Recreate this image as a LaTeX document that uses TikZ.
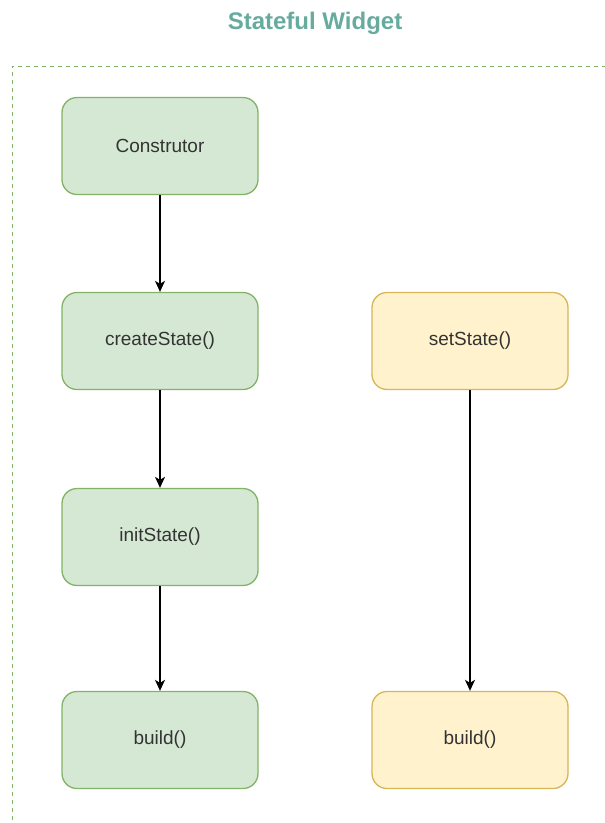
\documentclass[tikz,border=0pt]{standalone}
\usepackage{fontspec}
\setmainfont{Liberation Sans}
\usetikzlibrary{arrows.meta}
\definecolor{greenfill}{HTML}{D5E8D4}
\definecolor{greenline}{HTML}{82B366}
\definecolor{yellowfill}{HTML}{FFF2CC}
\definecolor{yellowline}{HTML}{D6B656}
\definecolor{titlecol}{HTML}{67AB9F}
\definecolor{textcol}{HTML}{333333}
\tikzset{
  greenbox/.style={draw=greenline, fill=greenfill, line width=1.3pt, rounded corners=15pt,
    minimum width=196pt, minimum height=97pt, text=textcol, font=\fontsize{19}{22}\selectfont},
  yellowbox/.style={greenbox, draw=yellowline, fill=yellowfill},
  flow/.style={-{Stealth[length=11pt, width=10pt, inset=3pt]}, line width=1.4pt}
}

\begin{document}
\begin{tikzpicture}[x=1pt, y=-1pt]
			\useasboundingbox (0, 0) rectangle (605, 823);
			\draw[greenline, line width=1pt, dash pattern=on 4pt off 4pt] (606, 66) -- (12, 66) -- (12, 824);
			\node[font=\bfseries\fontsize{24}{27}\selectfont, text=titlecol] (title) at (315, 23) {Stateful Widget};
			\node[greenbox] (ctor) at (160, 146) {Construtor};
			\node[greenbox] (create) at (160, 341) {createState()};
			\node[greenbox] (init) at (160, 537) {initState()};
			\node[greenbox] (build1) at (160, 740) {build()};
			\node[yellowbox] (set) at (470, 341) {setState()};
			\node[yellowbox] (build2) at (470, 740) {build()};
			\draw[flow] (ctor) -- (create);
			\draw[flow] (create) -- (init);
			\draw[flow] (init) -- (build1);
			\draw[flow] (set) -- (build2);
		\end{tikzpicture}
\end{document}
